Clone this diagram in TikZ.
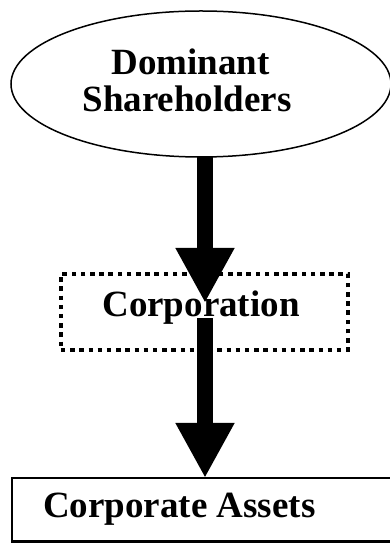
\documentclass[tikz,border=0pt]{standalone}
\usepackage{fontspec}
\setmainfont{Liberation Serif}
\usetikzlibrary{arrows.meta,shapes.geometric}
\begin{document}
\begin{tikzpicture}[x=1pt,y=1pt,
  lbl/.style={font=\bfseries\fontsize{37}{40}\selectfont, inner sep=0pt},
  bigarrow/.style={line width=16pt, -{Triangle[length=55pt,width=55pt]}, shorten >=0pt},
]
\useasboundingbox (0,0) rectangle (390,543);
% ellipse
\node[draw, line width=1.5pt, ellipse, minimum width=380pt, minimum height=146pt, inner sep=0pt, outer sep=0pt] (sh) at (201,459) {};
\node[lbl, anchor=base] (t1) at (190.5,468.5) {Dominant};
\node[lbl, anchor=base] (t2) at (187,431) {Shareholders};
% dotted box
\node[draw, line width=4pt, dash pattern=on 4.5pt off 4.7pt, minimum width=287pt, minimum height=76pt, inner sep=0pt, outer sep=0pt] (corp) at (204.4,231) {};
\node[lbl, anchor=base] (ct) at (201,226) {Corporation};
% bottom box
\node[draw, line width=2.5pt, anchor=north west, minimum width=400pt, minimum height=63.5pt, inner sep=0pt, outer sep=0pt] (assets) at (12,65) {};
\node[lbl, anchor=base west] (at) at (43,25) {Corporate Assets};
% arrows
\coordinate (a1e) at (205,240);
\coordinate (a2s) at (205,225);
\draw[bigarrow] (sh.south -| a1e) -- (a1e);
\draw[bigarrow] (a2s) -- (a2s |- assets.north);
\end{tikzpicture}
\end{document}
